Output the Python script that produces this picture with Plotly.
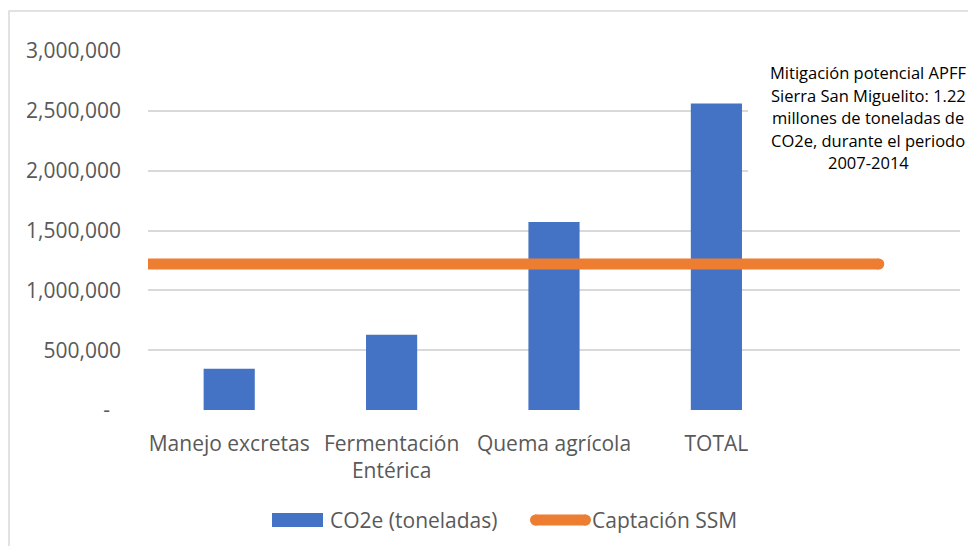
import plotly.graph_objects as go

categories = ["Manejo excretas", "Fermentación<br>Entérica", "Quema agrícola", "TOTAL", ""]
co2e = [345000, 628000, 1572000, 2562000, None]
captacion_x = [-0.5, 0, 1, 2, 3, 4]
captacion = [1220000, 1220000, 1220000, 1220000, 1220000, 1220000]
y_tickvals = [0, 500000, 1000000, 1500000, 2000000, 2500000, 3000000]
y_ticktext = ["-\u00a0\u00a0", "500,000", "1,000,000", "1,500,000", "2,000,000", "2,500,000", "3,000,000"]
note_lines = ["Mitigación potencial APFF", "Sierra San Miguelito: 1.22",
              "millones de toneladas de", "CO2e, durante el periodo", "2007-2014"]
series_names = ["CO2e (toneladas)", "Captación SSM"]
BAR_COLOR, LINE_COLOR = "#4472C4", "#ED7D31"

FONT = "Open Sans"
OFF = 8  # page body margin
W, H = 976 - 2 * OFF, 554 - 2 * OFF
# plot area in reference (window) pixels
PL, PR, PT, PB = 148, 960, 51, 410
L, R, T, B = PL - OFF, W - (PR - OFF), PT - OFF, H - (PB - OFF)
pw, ph = PR - PL, PB - PT
LW = 11

def px2x(px):
    return (px - PL) / pw

def py2y(py):
    return (PB - py) / ph

fig = go.Figure()
fig.add_trace(go.Bar(
    x=list(range(len(categories))), y=co2e, name=series_names[0],
    marker=dict(color=BAR_COLOR, line=dict(width=0)), width=0.315, showlegend=False,
))
fig.add_trace(go.Scatter(
    x=captacion_x, y=captacion, name=series_names[1], mode="lines",
    line=dict(color=LINE_COLOR, width=LW), showlegend=False,
))
# round cap at the line end
fig.add_shape(type="circle", xref="x", yref="y", xsizemode="pixel", ysizemode="pixel",
              xanchor=captacion_x[-1], yanchor=captacion[-1],
              x0=-LW / 2, x1=LW / 2, y0=-LW / 2, y1=LW / 2,
              fillcolor=LINE_COLOR, line=dict(width=0), layer="above")

fig.update_layout(
    width=W, height=H,
    margin=dict(l=L, r=R, t=T, b=B, autoexpand=False),
    paper_bgcolor="white", plot_bgcolor="white",
    font=dict(family=FONT, size=21, color="#595959"),
    showlegend=False,
    xaxis=dict(range=[-0.5, 4.5], tickvals=list(range(len(categories))), ticktext=categories,
               showgrid=False, zeroline=False, showline=False, ticks="", ticklabelstandoff=19,
               tickfont=dict(family=FONT, size=21, color="#595959"), fixedrange=True),
    yaxis=dict(range=[0, 3000000], tickvals=y_tickvals, ticktext=y_ticktext,
               showgrid=True, gridcolor="#d9d9d9", gridwidth=1.5, zeroline=False, showline=False,
               ticks="", ticklabelstandoff=26,
               tickfont=dict(family=FONT, size=21, color="#595959"), fixedrange=True),
)

# white box behind note (covers gridlines as in reference)
fig.add_shape(type="rect", xref="paper", yref="paper",
              x0=px2x(748), x1=px2x(990), y0=py2y(178), y1=py2y(40),
              fillcolor="white", line=dict(width=0), layer="above")
# outer border
fig.add_shape(type="rect", xref="paper", yref="paper",
              x0=px2x(9), x1=px2x(1000), y0=py2y(600), y1=py2y(11),
              fillcolor="rgba(0,0,0,0)", line=dict(color="#d9d9d9", width=1.5), layer="above")

for i, t in enumerate(note_lines):
    fig.add_annotation(text=t, xref="paper", yref="paper", x=px2x(868), y=py2y(72.5 + 22.5 * i),
                       xanchor="center", yanchor="middle", showarrow=False,
                       font=dict(family=FONT, size=16.5, color="#000000"))

# legend drawn manually to match the reference key shapes
fig.add_shape(type="rect", xref="paper", yref="paper",
              x0=px2x(272), x1=px2x(323), y0=py2y(527), y1=py2y(513),
              fillcolor=BAR_COLOR, line=dict(width=0))
fig.add_annotation(text=series_names[0], xref="paper", yref="paper", x=px2x(328), y=py2y(520),
                   xanchor="left", yanchor="middle", showarrow=False,
                   font=dict(family=FONT, size=21, color="#595959"))
fig.add_shape(type="line", xref="paper", yref="paper",
              x0=px2x(535), x1=px2x(586), y0=py2y(520), y1=py2y(520),
              line=dict(color=LINE_COLOR, width=LW))
fig.add_shape(type="circle", xref="paper", yref="paper",
              x0=px2x(530), x1=px2x(541), y0=py2y(525.5), y1=py2y(514.5),
              fillcolor=LINE_COLOR, line=dict(width=0))
fig.add_shape(type="circle", xref="paper", yref="paper",
              x0=px2x(580), x1=px2x(591), y0=py2y(525.5), y1=py2y(514.5),
              fillcolor=LINE_COLOR, line=dict(width=0))
fig.add_annotation(text=series_names[1], xref="paper", yref="paper", x=px2x(590), y=py2y(520),
                   xanchor="left", yanchor="middle", showarrow=False,
                   font=dict(family=FONT, size=21, color="#595959"))

fig.write_html("out.html")
